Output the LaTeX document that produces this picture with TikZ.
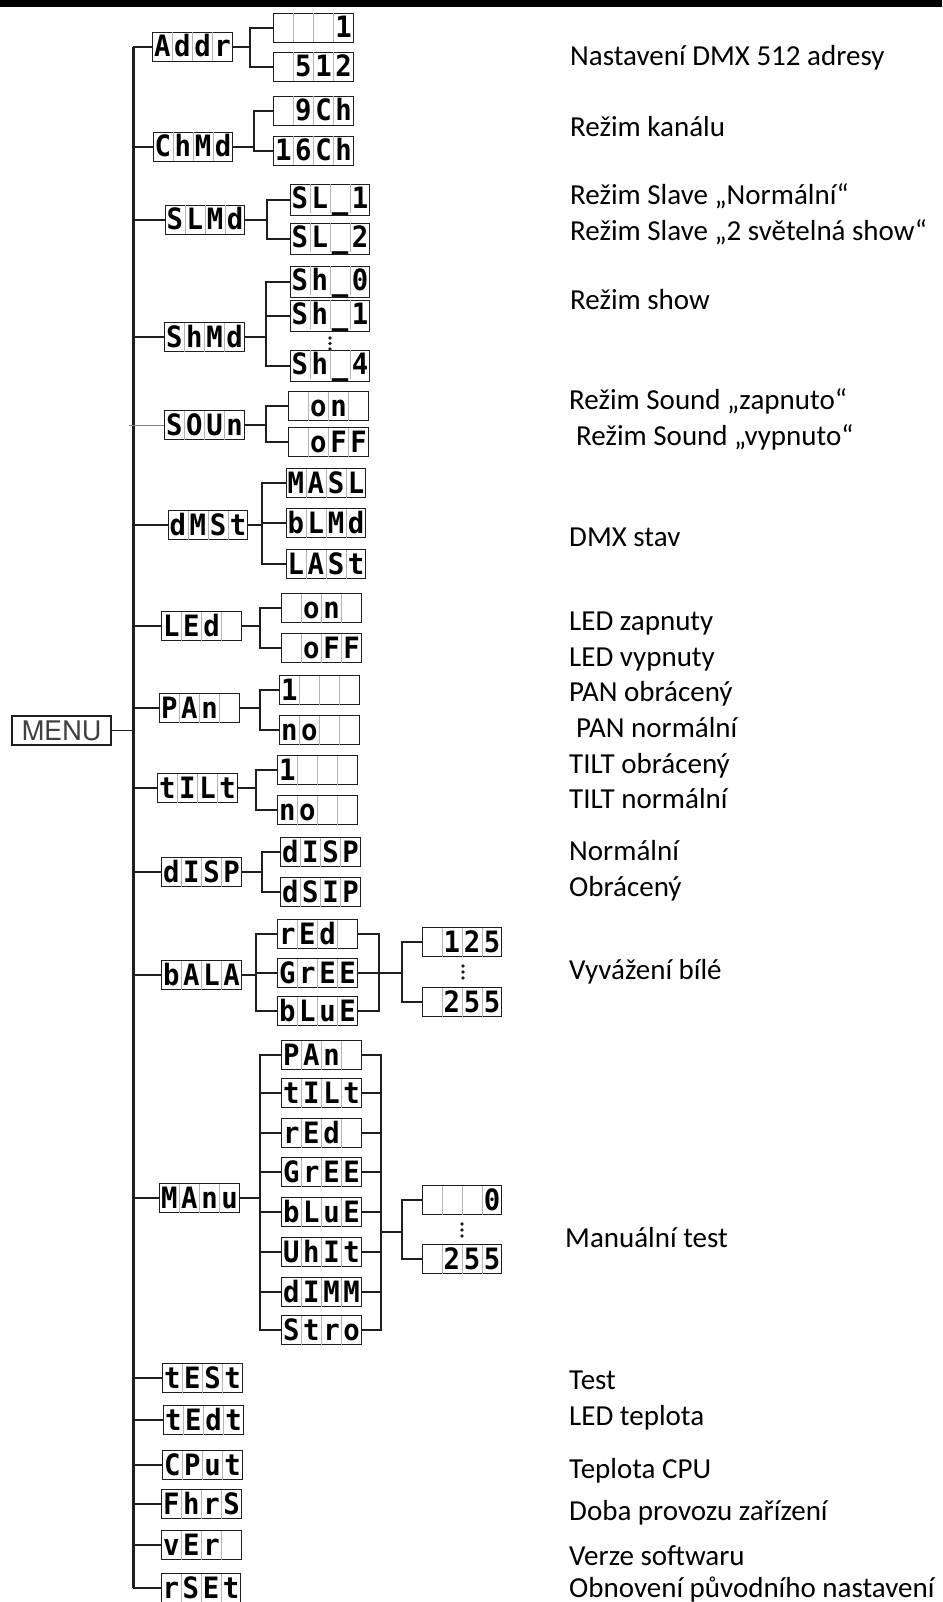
\documentclass[tikz,border=0pt]{standalone}
\usepackage{tikz}
\usepackage{graphicx}
\usepackage{fontspec}
\setmainfont{Carlito}
\newfontfamily\lcdfont{DejaVu Sans Mono}
\newfontfamily\menufont{TeX Gyre Heros}
\definecolor{ink}{HTML}{1E1E1E}
\definecolor{cellgray}{HTML}{B4B4B4}
\newlength\cellw
\setlength\cellw{19.4pt}
\newcommand\lcdch[1]{\makebox[\cellw]{\scalebox{1.3}[1.4]{#1}}}
\newcommand\lcdsep{{\color{cellgray}\vrule width .7pt height 24.5pt depth 4.5pt}}
\newcommand\cells[4]{\lcdch{#1}\lcdsep\lcdch{#2}\lcdsep\lcdch{#3}\lcdsep\lcdch{#4}}

\begin{document}
\begin{tikzpicture}[x=1pt,y=-1pt,
  wire/.style={ink,line width=1.4pt},
  trunk/.style={ink,line width=3pt},
  lcd/.style={draw=ink,line width=1.2pt,inner sep=0pt,font=\lcdfont\bfseries\fontsize{21}{21}\selectfont},
  menubox/.style={draw=ink,line width=1.2pt,minimum width=99pt,minimum height=29pt,inner sep=0pt,text=ink!85,font=\menufont\fontsize{27}{27}\selectfont},
  note/.style={anchor=base west,inner sep=0pt,font=\fontsize{29}{35}\selectfont}]
\useasboundingbox (0,0) rectangle (942,1602);
\fill[black] (0,0) rectangle (942,7);

\node[menubox] (menu) at (61.5,730.5) {MENU};

\node[lcd] (addr) at (192.5,47) {\cells{A}{d}{d}{r}};
\node[lcd] (addr1) at (313.5,28) {\cells{}{}{}{1}};
\node[lcd] (addr2) at (313.5,67) {\cells{}{5}{1}{2}};
\node[lcd] (chmd) at (193,147) {\cells{C}{h}{M}{d}};
\node[lcd] (chmd1) at (313.5,111) {\cells{}{9}{C}{h}};
\node[lcd] (chmd2) at (313.5,151) {\cells{1}{6}{C}{h}};
\node[lcd] (slmd) at (205,220) {\cells{S}{L}{M}{d}};
\node[lcd] (slmd1) at (330,200) {\cells{S}{L}{\_}{1}};
\node[lcd] (slmd2) at (330,239) {\cells{S}{L}{\_}{2}};
\node[lcd] (shmd) at (204.5,337) {\cells{S}{h}{M}{d}};
\node[lcd] (shmd1) at (330,282) {\cells{S}{h}{\_}{0}};
\node[lcd] (shmd2) at (330,316) {\cells{S}{h}{\_}{1}};
\node[lcd] (shmd3) at (330,366) {\cells{S}{h}{\_}{4}};
\node[lcd] (soun) at (204.5,425) {\cells{S}{O}{U}{n}};
\node[lcd] (soun1) at (328.5,406) {\cells{}{o}{n}{}};
\node[lcd] (soun2) at (328.5,442) {\cells{}{o}{F}{F}};
\node[lcd] (dmst) at (208,525) {\cells{d}{M}{S}{t}};
\node[lcd] (dmst1) at (326,483) {\cells{M}{A}{S}{L}};
\node[lcd] (dmst2) at (326,523) {\cells{b}{L}{M}{d}};
\node[lcd] (dmst3) at (326,564) {\cells{L}{A}{S}{t}};
\node[lcd] (led) at (201.5,626) {\cells{L}{E}{d}{}};
\node[lcd] (led1) at (321.5,608) {\cells{}{o}{n}{}};
\node[lcd] (led2) at (321.5,648) {\cells{}{o}{F}{F}};
\node[lcd] (pan) at (199.5,708) {\cells{P}{A}{n}{}};
\node[lcd] (pan1) at (319.5,690) {\cells{1}{}{}{}};
\node[lcd] (pan2) at (319.5,730) {\cells{n}{o}{}{}};
\node[lcd] (tilt) at (197.5,788) {\cells{t}{I}{L}{t}};
\node[lcd] (tilt1) at (317.5,770) {\cells{1}{}{}{}};
\node[lcd] (tilt2) at (317.5,810) {\cells{n}{o}{}{}};
\node[lcd] (disp) at (201.5,872) {\cells{d}{I}{S}{P}};
\node[lcd] (disp1) at (320.5,852) {\cells{d}{I}{S}{P}};
\node[lcd] (disp2) at (320.5,892) {\cells{d}{S}{I}{P}};
\node[lcd] (bala) at (201.5,975) {\cells{b}{A}{L}{A}};
\node[lcd] (bala1) at (317.5,934) {\cells{r}{E}{d}{}};
\node[lcd] (bala2) at (317.5,973) {\cells{G}{r}{E}{E}};
\node[lcd] (bala3) at (317.5,1011) {\cells{b}{L}{u}{E}};
\node[lcd] (balav1) at (462,942) {\cells{}{1}{2}{5}};
\node[lcd] (balav2) at (462,1002) {\cells{}{2}{5}{5}};
\node[lcd] (manu) at (199.5,1198) {\cells{M}{A}{n}{u}};
\foreach \y/\t [count=\i] in {1055/{\cells{P}{A}{n}{}},1093/{\cells{t}{I}{L}{t}},1133/{\cells{r}{E}{d}{}},1172/{\cells{G}{r}{E}{E}},1212/{\cells{b}{L}{u}{E}},1252/{\cells{U}{h}{I}{t}},1292/{\cells{d}{I}{M}{M}},1330/{\cells{S}{t}{r}{o}}}
{\node[lcd] (manu\i) at (321.5,\y) {\t};}
\node[lcd] (manuv1) at (462,1200) {\cells{}{}{}{0}};
\node[lcd] (manuv2) at (462,1259) {\cells{}{2}{5}{5}};
\node[lcd] (test) at (202.5,1378) {\cells{t}{E}{S}{t}};
\node[lcd] (tedt) at (203.5,1420) {\cells{t}{E}{d}{t}};
\node[lcd] (cput) at (202.5,1465) {\cells{C}{P}{u}{t}};
\node[lcd] (fhrs) at (201.5,1504) {\cells{F}{h}{r}{S}};
\node[lcd] (ver) at (201.5,1545) {\cells{v}{E}{r}{}};
\node[lcd] (rset) at (201,1588) {\cells{r}{S}{E}{t}};

\coordinate (ttop) at (133,47);
\coordinate (tbot) at (133,1588);
\draw[trunk] (ttop) -- (tbot);
\draw[wire] (menu.east) -- (menu.east -| ttop);
\foreach \n in {addr,chmd,slmd,shmd,dmst,led,pan,tilt,disp,bala,manu,test,tedt,cput,fhrs,ver,rset}
{\draw[wire] (\n.west) -- (\n.west -| ttop);}
\draw[gray,line width=1pt] (soun.west) -- ([xshift=-4pt]soun.west -| ttop);

\foreach \p/\bx/\kids in {addr/250/{addr1,addr2},chmd/254/{chmd1,chmd2},slmd/267/{slmd1,slmd2},shmd/266/{shmd1,shmd2,shmd3},soun/266/{soun1,soun2},dmst/262/{dmst1,dmst2,dmst3},led/260/{led1,led2},pan/260/{pan1,pan2},tilt/256/{tilt1,tilt2},disp/262/{disp1,disp2},bala/256/{bala1,bala2,bala3},manu/260/{manu1,manu2,manu3,manu4,manu5,manu6,manu7,manu8}}
{\coordinate (\p-br) at (\bx,0 |- \p.east);
 \draw[wire] (\p.east) -- (\p-br);
 \foreach \k in \kids {\draw[wire] (\k.west) -| (\p-br);}}

\coordinate (balam) at (379,973);
\coordinate (balavb) at (402,973);
\foreach \k in {bala1,bala2,bala3} {\draw[wire] (\k.east) -| (balam);}
\draw[wire] (balam) -- (balavb);
\foreach \k in {balav1,balav2} {\draw[wire] (\k.west) -| (balavb);}
\coordinate (manum) at (381,1232);
\coordinate (manuvb) at (402,1232);
\foreach \k in {manu1,manu2,manu3,manu4,manu5,manu6,manu7,manu8} {\draw[wire] (\k.east) -| (manum);}
\draw[wire] (manum) -- (manuvb);
\foreach \k in {manuv1,manuv2} {\draw[wire] (\k.west) -| (manuvb);}

\foreach \y in {338,343.5,349} {\fill[ink] (330,\y) circle (1.8pt);}
\foreach \y in {966,972,978} {\fill[ink] (463,\y) circle (1.8pt);}
\foreach \y in {1224,1230,1236} {\fill[ink] (462,\y) circle (1.8pt);}

\foreach \x/\y/\t [count=\i] in {570/66/{Nastavení DMX 512 adresy},570/137/{Režim kanálu},570/205/{Režim Slave „Normální“},570/241/{Režim Slave „2 světelná show“},570/309/{Režim show},569/409/{Režim Sound „zapnuto“},576/445/{Režim Sound „vypnuto“},569/546/{DMX stav},569/630/{LED zapnuty},569/666/{LED vypnuty},569/701/{PAN obrácený},576/737/{PAN normální},569/773/{TILT obrácený},569/808/{TILT normální},569/860/{Normální},569/896/{Obrácený},569/979/{Vyvážení bílé},565/1247/{Manuální test},569/1389/{Test},569/1425/{LED teplota},569/1478/{Teplota CPU},569/1520/{Doba provozu zařízení},569/1565/{Verze softwaru},569/1597/{Obnovení původního nastavení}}
{\node[note] (note\i) at (\x,\y) {\t};}
\end{tikzpicture}
\end{document}
